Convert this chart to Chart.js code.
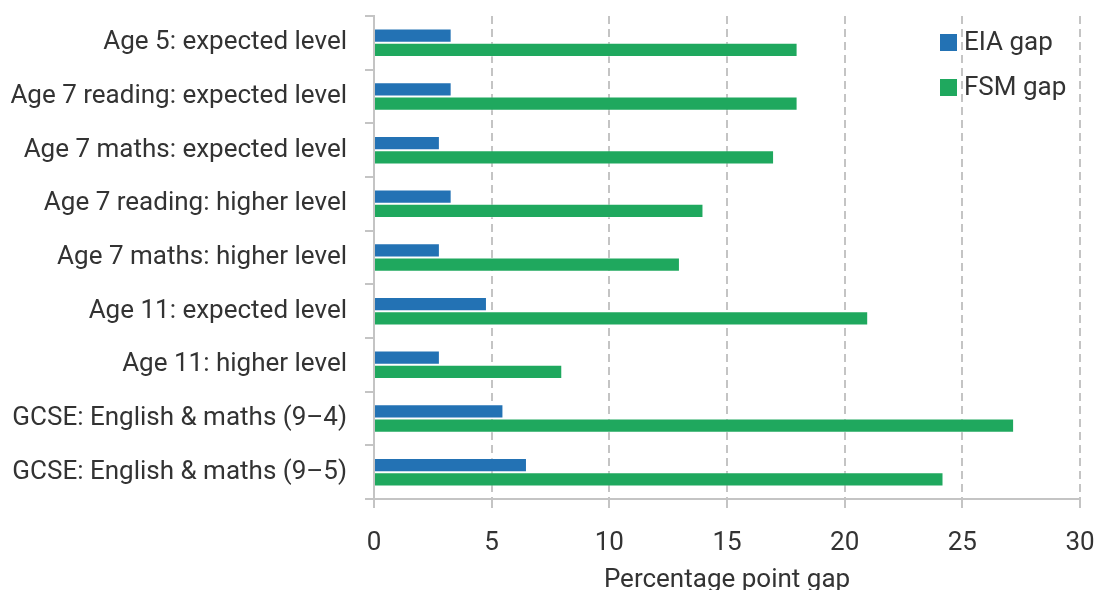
<!DOCTYPE html>
<html>
<head>
<meta charset="utf-8">
<script src="https://cdn.jsdelivr.net/npm/chart.js@4/dist/chart.umd.min.js"></script>
<style>
  html, body { margin: 0; padding: 0; background: #fff; }
  #wrap { width: 1098px; height: 590px; }
</style>
</head>
<body>
<div id="wrap"><canvas id="gapChart" width="1098" height="590"></canvas></div>
<script>
const categories = [
    'Age 5: expected level',
    'Age 7 reading: expected level',
    'Age 7 maths: expected level',
    'Age 7 reading: higher level',
    'Age 7 maths: higher level',
    'Age 11: expected level',
    'Age 11: higher level',
    'GCSE: English & maths (9\u20134)',
    'GCSE: English & maths (9\u20135)'
];
const eiaGap = [3.3, 3.3, 2.8, 3.3, 2.8, 4.8, 2.8, 5.5, 6.5];
const fsmGap = [18.0, 18.0, 17.0, 14.0, 13.0, 21.0, 8.0, 27.2, 24.2];
const xTicks = [0, 5, 10, 15, 20, 25, 30];
const xTitle = 'Percentage point gap';

const FONT = "Roboto, 'Noto Sans', sans-serif";
const TEXT = '#333333';
const AXIS = '#c4c4c4';

// legend drawn by hand so it can sit inside the plot, top right
const cornerLegend = {
    id: 'cornerLegend',
    afterDraw(chart) {
        const ctx = chart.ctx;
        ctx.save();
        ctx.font = '26px ' + FONT;
        ctx.textBaseline = 'middle';
        chart.data.datasets.forEach((ds, i) => {
            const y = 42 + i * 45;
            ctx.fillStyle = ds.backgroundColor;
            ctx.fillRect(940, y - 8, 17, 17);
            ctx.fillStyle = TEXT;
            ctx.fillText(ds.label, 964, y + 1);
        });
        ctx.restore();
    }
};

const ctx = document.getElementById('gapChart').getContext('2d');
new Chart(ctx, {
    type: 'bar',
    data: {
        labels: categories,
        datasets: [
            {
                label: 'EIA gap',
                data: eiaGap,
                backgroundColor: '#2372b4',
                borderColor: 'rgba(255,255,255,0.35)',
                borderWidth: 1,
                categoryPercentage: 0.53,
                barPercentage: 1
            },
            {
                label: 'FSM gap',
                data: fsmGap,
                backgroundColor: '#1fa85e',
                borderColor: 'rgba(255,255,255,0.35)',
                borderWidth: 1,
                categoryPercentage: 0.53,
                barPercentage: 1
            }
        ]
    },
    options: {
        indexAxis: 'y',
        responsive: false,
        animation: false,
        layout: { padding: { top: 16, right: 18, bottom: 0, left: 0 } },
        plugins: {
            legend: { display: false },
            tooltip: { enabled: false }
        },
        scales: {
            x: {
                min: 0,
                max: 30,
                afterBuildTicks: s => { s.ticks = xTicks.map(v => ({ value: v })); },
                afterFit: s => { s.height = 91; s.paddingLeft = 0; s.paddingRight = 0; },
                border: { display: true, color: AXIS, width: 2, dash: [8, 5] },
                grid: {
                    color: c => c.tick && c.tick.value === 0 ? 'rgba(0,0,0,0)' : AXIS,
                    lineWidth: 2,
                    drawTicks: true,
                    tickLength: 9,
                    tickColor: AXIS,
                    tickBorderDash: [],
                    tickWidth: 2
                },
                ticks: {
                    color: TEXT,
                    font: { family: FONT, size: 26 },
                    padding: 20,
                    maxRotation: 0
                },
                title: {
                    display: true,
                    text: xTitle,
                    color: TEXT,
                    font: { family: FONT, size: 26 },
                    padding: { top: 0, bottom: -6 }
                }
            },
            y: {
                afterFit: s => { s.width = 374; s.paddingTop = 0; s.paddingBottom = 0; },
                border: { display: true, color: AXIS, width: 2 },
                grid: {
                    offset: true,
                    drawOnChartArea: false,
                    drawTicks: true,
                    tickLength: 9,
                    tickColor: AXIS,
                    lineWidth: 2
                },
                ticks: {
                    color: TEXT,
                    font: { family: FONT, size: 26 },
                    padding: 18,
                    autoSkip: false
                }
            }
        }
    },
    plugins: [cornerLegend]
});
</script>
</body>
</html>
